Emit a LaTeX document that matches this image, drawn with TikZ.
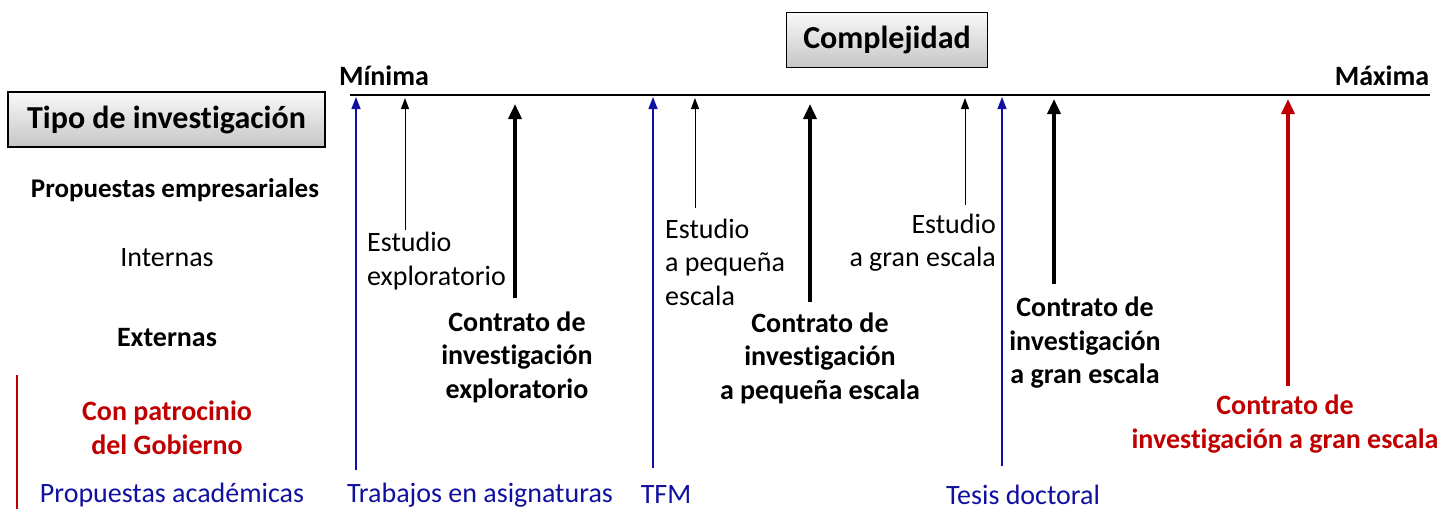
\documentclass[tikz,border=0pt]{standalone}
\usepackage{fontspec}
\setmainfont{Carlito}[Ligatures=NoCommon]
\usetikzlibrary{arrows.meta}
\definecolor{darkred}{RGB}{192,0,0}
\definecolor{navy}{RGB}{16,16,160}
\newcommand{\txt}{\fontsize{28}{33.5}\selectfont}
\newcommand{\titlefont}{\fontsize{32}{36}\selectfont\bfseries}
\tikzset{
  graybox/.style={draw, line width=1.5pt, top color=gray!5, bottom color=gray!45, inner sep=0pt},
  txtlabel/.style={font=\txt, inner sep=0pt},
  thinarrow/.style={line width=0.9pt, -{Triangle[width=8pt,length=11pt]}},
  thickarrow/.style={line width=3.5pt, -{Triangle[width=13pt,length=15pt]}},
  bluearrow/.style={navy, line width=1.4pt, -{Triangle[width=9pt,length=12pt]}},
}
\begin{document}
\begin{tikzpicture}[x=1pt, y=-1pt]
    \useasboundingbox (0,0) rectangle (1442,509);

    % Axis
    \node[graybox, minimum width=201pt, minimum height=55pt, font=\titlefont] (complejidad) at (887,40) {Complejidad};
    \node[txtlabel, font=\txt\bfseries] (minima) at (384,76) {Mínima};
    \node[txtlabel, font=\txt\bfseries] (maxima) at (1382,76) {Máxima};
    \coordinate (axisL) at (350,95);
    \coordinate (axisR) at (1430,95);
    \draw[line width=1.5pt] (axisL) -- (axisR);

    % Left column
    \node[graybox, minimum width=317pt, minimum height=55pt, font=\titlefont] (tipo) at (166.5,119.5) {Tipo de investigación};
    \node[txtlabel, font=\fontsize{27}{33}\selectfont\bfseries] (propemp) at (175,190) {Propuestas empresariales};
    \node[txtlabel] (internas) at (167,258) {Internas};
    \node[txtlabel, font=\txt\bfseries] (externas) at (167,338) {Externas};
    \node[txtlabel, font=\txt\bfseries, darkred, align=center] (gobierno) at (167,428) {Con patrocinio\\del Gobierno};
    \node[txtlabel, navy] (propacad) at (172,495) {Propuestas académicas};
    \coordinate (redT) at (17,375);
    \coordinate (redB) at (17,509);
    \draw[darkred, line width=1.3pt] (redT) -- (redB);

    % Academic proposals
    \node[txtlabel, navy] (asignaturas) at (480,495) {Trabajos en asignaturas};
    \node[txtlabel, navy] (tfm) at (666,495) {TFM};
    \node[txtlabel, navy] (tesis) at (1023,495) {Tesis doctoral};
    \coordinate (asigB) at (356,470);  \coordinate (asigT) at (356,97);
    \coordinate (tfmB) at (653,468);   \coordinate (tfmT) at (653,97);
    \coordinate (tesisB) at (1002,466); \coordinate (tesisT) at (1002,97);
    \draw[bluearrow] (asigB) -- (asigT);
    \draw[bluearrow] (tfmB) -- (tfmT);
    \draw[bluearrow] (tesisB) -- (tesisT);

    % Internal studies
    \node[txtlabel, align=left, anchor=west] (estexpl) at (367,261) {Estudio\\exploratorio};
    \node[txtlabel, align=left, anchor=west] (estpeq) at (665,262) {Estudio\\a pequeña\\escala};
    \node[txtlabel, align=right, anchor=east] (estgran) at (996,242.5) {Estudio\\a gran escala};
    \coordinate (estexplB) at (405,230); \coordinate (estexplT) at (405,98);
    \coordinate (estpeqB) at (695,208);  \coordinate (estpeqT) at (695,98);
    \coordinate (estgranB) at (965,205); \coordinate (estgranT) at (965,98);
    \draw[thinarrow] (estexplB) -- (estexplT);
    \draw[thinarrow] (estpeqB) -- (estpeqT);
    \draw[thinarrow] (estgranB) -- (estgranT);

    % External contracts
    \node[txtlabel, font=\txt\bfseries, align=center] (contexpl) at (517,357) {Contrato de\\investigación\\exploratorio};
    \node[txtlabel, font=\txt\bfseries, align=center] (contpeq) at (820,358) {Contrato de\\investigación\\a pequeña escala};
    \node[txtlabel, font=\txt\bfseries, align=center] (contgran) at (1085,343) {Contrato de\\investigación\\a gran escala};
    \coordinate (contexplB) at (515,298); \coordinate (contexplT) at (515,104);
    \coordinate (contpeqB) at (810,302);  \coordinate (contpeqT) at (810,104);
    \coordinate (contgranB) at (1054,284); \coordinate (contgranT) at (1054,99);
    \draw[thickarrow] (contexplB) -- (contexplT);
    \draw[thickarrow] (contpeqB) -- (contpeqT);
    \draw[thickarrow] (contgranB) -- (contgranT);

    % Government
    \node[txtlabel, font=\txt\bfseries, darkred, align=center] (contgob) at (1285,424) {Contrato de\\investigación a gran escala};
    \coordinate (contgobB) at (1288,386); \coordinate (contgobT) at (1288,99);
    \draw[thickarrow, darkred] (contgobB) -- (contgobT);
\end{tikzpicture}
\end{document}
